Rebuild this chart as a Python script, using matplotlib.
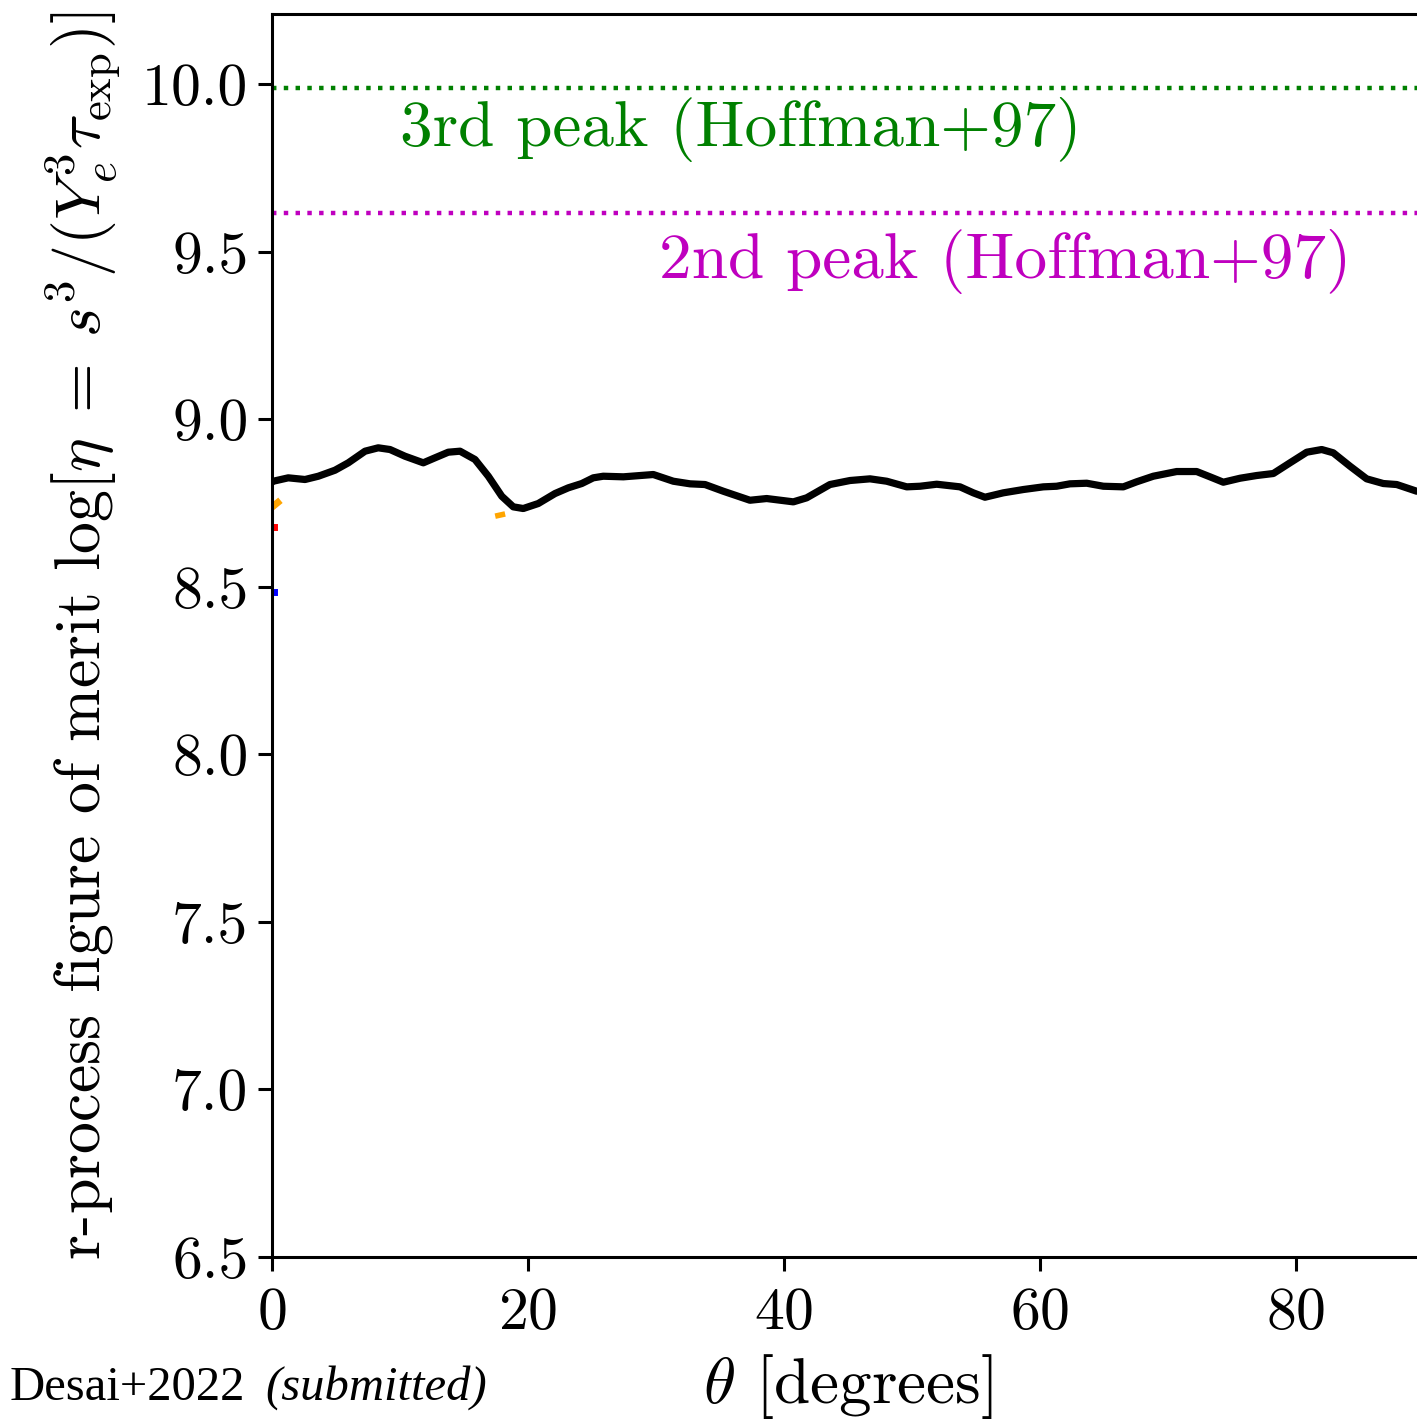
import numpy as np
import matplotlib
matplotlib.use("Agg")
import matplotlib.pyplot as plt

plt.rcParams['font.family'] = 'cmr10'
plt.rcParams['mathtext.fontset'] = 'cm'
plt.rcParams['axes.formatter.use_mathtext'] = True

# angle-averaged r-process figure of merit vs polar angle
theta = [0.0, 0.10, 1.27, 2.58, 3.62, 4.92, 5.96, 7.27, 8.30, 9.22, 10.39, 11.82,
         12.73, 13.77, 14.69, 15.86, 16.90, 17.95, 18.85, 19.63, 20.80, 22.11,
         23.15, 24.20, 25.10, 25.88, 27.45, 29.79, 31.35, 32.66, 33.83, 35.26,
         37.34, 38.65, 40.73, 41.77, 43.59, 45.16, 46.72, 48.02, 49.59, 50.63,
         51.93, 53.75, 54.79, 55.70, 57.13, 58.70, 60.26, 61.30, 62.34, 63.65,
         64.95, 66.51, 67.55, 68.85, 70.68, 72.24, 73.28, 74.32, 75.63, 76.93,
         78.23, 79.53, 80.84, 82.01, 82.91, 84.22, 85.52, 86.82, 87.87, 89.43]
log_eta = [8.813, 8.8155, 8.8256, 8.8206, 8.8304, 8.8483, 8.8704, 8.9051, 8.9152,
           8.9101, 8.8901, 8.8704, 8.8853, 8.9021, 8.9051, 8.8803, 8.8304, 8.7707,
           8.7390, 8.7340, 8.7489, 8.7787, 8.7958, 8.8086, 8.8256, 8.8304, 8.8286,
           8.8355, 8.8155, 8.8077, 8.8056, 8.7856, 8.7587, 8.7638, 8.7539, 8.7659,
           8.8056, 8.8176, 8.8226, 8.8155, 8.7987, 8.8005, 8.8065, 8.7987, 8.7808,
           8.7677, 8.7808, 8.7907, 8.7987, 8.8005, 8.8077, 8.8095, 8.8005, 8.7987,
           8.8137, 8.8304, 8.8444, 8.8444, 8.8286, 8.8125, 8.8244, 8.8325, 8.8385,
           8.8704, 8.9021, 8.9101, 8.9003, 8.8603, 8.8226, 8.8086, 8.8056, 8.7856]

# short fragments of the other model curves near the left edge
frag_orange_a = ([0.0, 0.45], [8.738, 8.752])
frag_orange_b = ([17.65, 18.0], [8.713, 8.716])
frag_red = ([-0.5, 0.12], [8.68, 8.68])
frag_blue = ([-0.5, 0.12], [8.485, 8.485])

# Hoffman+97 thresholds
peak3 = 9.99
peak2 = 9.615

fig = plt.figure(figsize=(7.085, 7.105), dpi=200)
ax = fig.add_axes([272 / 1417, 1 - 1257 / 1421, (1424 - 272) / 1417, (1257 - 14) / 1421])

ax.plot(*frag_orange_a, color='orange', lw=2.5)
ax.plot(*frag_orange_b, color='orange', lw=2.0)
ax.plot(*frag_red, color='red', lw=2.5)
ax.plot(*frag_blue, color='blue', lw=2.5)
ax.plot(theta, log_eta, color='k', lw=2.6, solid_joinstyle='round', solid_capstyle='round')

ax.axhline(peak3, color='g', ls=':', lw=1.6)
ax.axhline(peak2, color='m', ls=':', lw=1.6)
ax.text(10, 9.865, '3rd peak (Hoffman+97)', color='g', fontsize=23.5, va='center')
ax.text(30.2, 9.47, '2nd peak (Hoffman+97)', color='m', fontsize=23.5, va='center')

ax.set_xlim(0, 90)
ax.set_ylim(6.5, 10.21)
ax.set_xticks([0, 20, 40, 60, 80])
ax.set_yticks([6.5, 7.0, 7.5, 8.0, 8.5, 9.0, 9.5, 10.0])
ax.set_yticklabels(['6.5', '7.0', '7.5', '8.0', '8.5', '9.0', '9.5', '10.0'])
ax.tick_params(direction='out', length=5, width=1.1, labelsize=21.5)
ax.tick_params(axis='x', pad=6)
for s in ax.spines.values():
    s.set_linewidth(1.1)

ax.set_xlabel(r'$\theta$ [degrees]', fontsize=23.5)
ax.set_ylabel(r'r-process figure of merit log[$\eta\;=\;s^3/(Y_e^3\tau_{\rm exp})$]',
              fontsize=23.0, labelpad=7)

fig.text(10 / 1417, 1 - 1388 / 1421, 'Desai+2022', fontsize=17.5, family='Liberation Serif',
         va='center', ha='left')
fig.text(265 / 1417, 1 - 1388 / 1421, '(submitted)', fontsize=17.5, family='Liberation Serif',
         style='italic', va='center', ha='left')

fig.savefig('out.png', dpi=200)
